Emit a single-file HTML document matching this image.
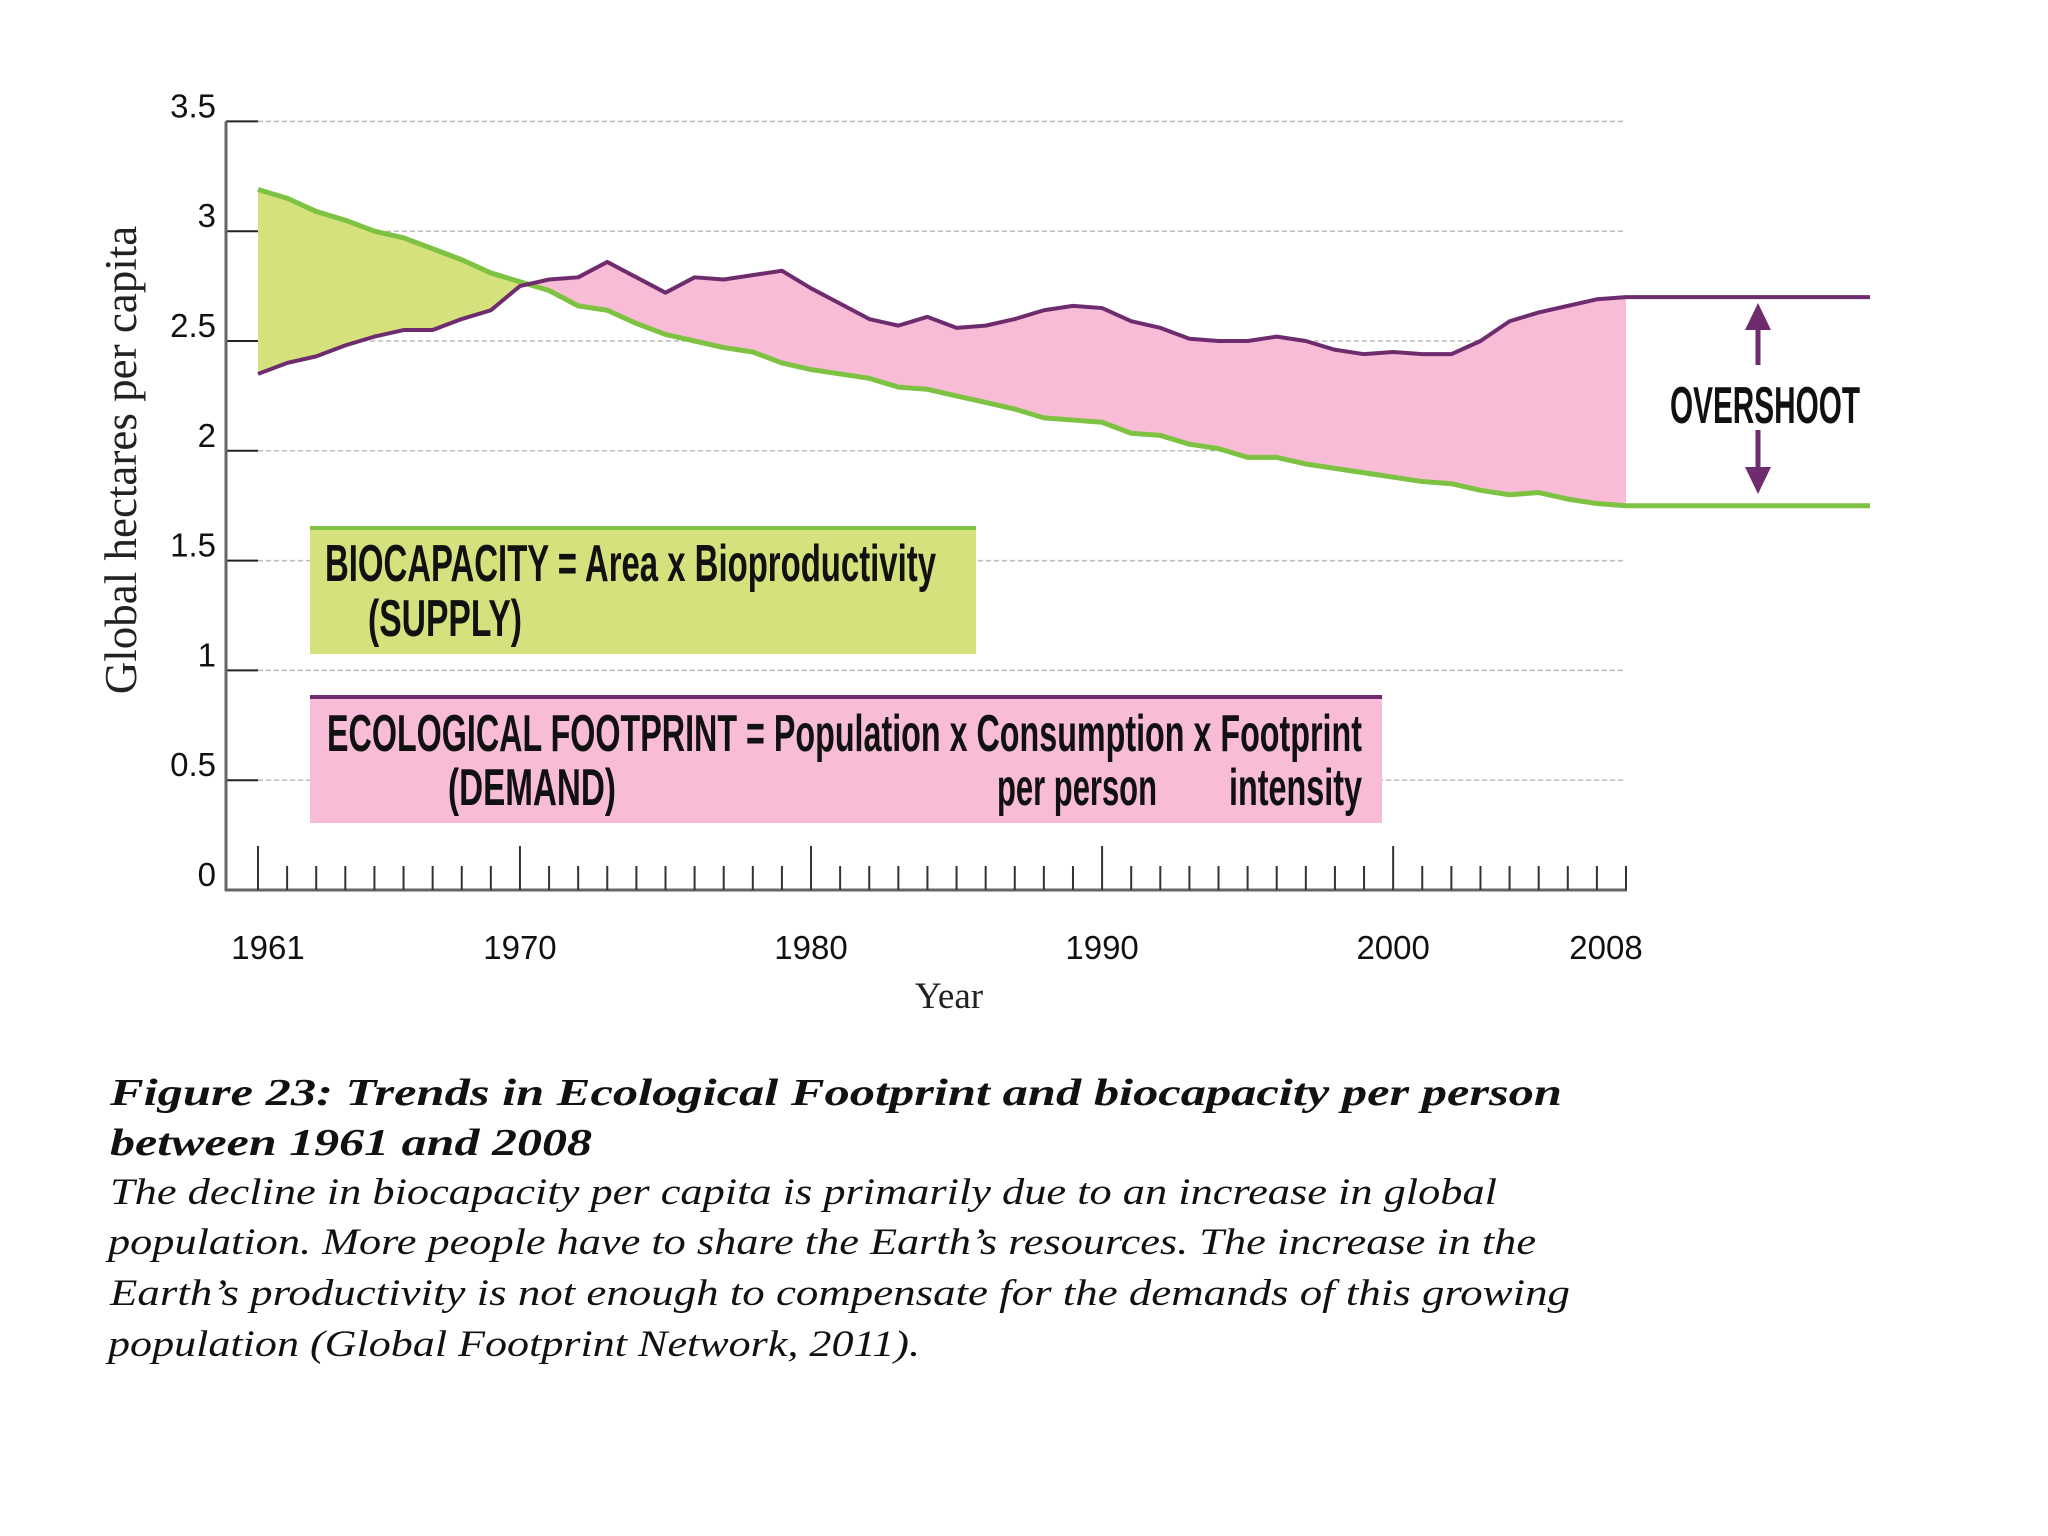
<!DOCTYPE html>
<html><head><meta charset="utf-8"><title>Ecological Footprint vs Biocapacity</title>
<style>html,body{margin:0;padding:0;background:#fff;}svg{display:block;}</style></head>
<body>
<svg id="chart" width="2048" height="1536" viewBox="0 0 2048 1536" xmlns="http://www.w3.org/2000/svg">
<defs>
<clipPath id="aboveFp"><polygon id="clipAboveFp" points=""/></clipPath>
<clipPath id="aboveBio"><polygon id="clipAboveBio" points=""/></clipPath>
</defs>
<g id="grid"></g>
<g id="areas"></g>
<g id="axes"></g>
<g id="lines"></g>

<text transform="translate(136,460) rotate(-90)" text-anchor="middle" font-family="Liberation Serif, serif" font-size="45" fill="#222">Global hectares per capita</text>
<text x="949" y="1008" text-anchor="middle" font-family="Liberation Serif, serif" font-size="37" fill="#222">Year</text>

<g>
<line x1="1758" y1="365" x2="1758" y2="318" stroke="#6e2c6f" stroke-width="5"/>
<polygon points="1758,303 1745,330 1771,330" fill="#6e2c6f"/>
<line x1="1758" y1="430" x2="1758" y2="478" stroke="#6e2c6f" stroke-width="5"/>
<polygon points="1758,494 1745,467 1771,467" fill="#6e2c6f"/>
<text x="1670" y="423" textLength="190" lengthAdjust="spacingAndGlyphs" font-family="Liberation Sans, sans-serif" font-weight="bold" font-size="52" fill="#111">OVERSHOOT</text>
</g>

<g>
<rect x="310" y="526" width="666" height="128" fill="#d4e17c"/>
<rect x="310" y="526" width="666" height="4" fill="#7dc242"/>
<text x="325" y="581" textLength="611" lengthAdjust="spacingAndGlyphs" font-family="Liberation Sans, sans-serif" font-weight="bold" font-size="52" fill="#111">BIOCAPACITY = Area x Bioproductivity</text>
<text x="368" y="636" textLength="154" lengthAdjust="spacingAndGlyphs" font-family="Liberation Sans, sans-serif" font-weight="bold" font-size="52" fill="#111">(SUPPLY)</text>
</g>

<g>
<rect x="310" y="695" width="1072" height="128" fill="#f8bcd6"/>
<rect x="310" y="695" width="1072" height="4" fill="#6e2c6f"/>
<text x="327" y="751" textLength="1035" lengthAdjust="spacingAndGlyphs" font-family="Liberation Sans, sans-serif" font-weight="bold" font-size="52" fill="#111">ECOLOGICAL FOOTPRINT = Population x Consumption x Footprint</text>
<text x="448" y="805" textLength="168" lengthAdjust="spacingAndGlyphs" font-family="Liberation Sans, sans-serif" font-weight="bold" font-size="52" fill="#111">(DEMAND)</text>
<text x="997" y="805" textLength="160" lengthAdjust="spacingAndGlyphs" font-family="Liberation Sans, sans-serif" font-weight="bold" font-size="52" fill="#111">per person</text>
<text x="1229" y="805" textLength="133" lengthAdjust="spacingAndGlyphs" font-family="Liberation Sans, sans-serif" font-weight="bold" font-size="52" fill="#111">intensity</text>
</g>

<g font-family="Liberation Serif, serif" font-style="italic" fill="#111">
<text x="110" y="1105" textLength="1452" lengthAdjust="spacingAndGlyphs" font-weight="bold" font-size="38">Figure 23: Trends in Ecological Footprint and biocapacity per person</text>
<text x="110" y="1155" textLength="482" lengthAdjust="spacingAndGlyphs" font-weight="bold" font-size="38">between 1961 and 2008</text>
<text x="110" y="1204" textLength="1387" lengthAdjust="spacingAndGlyphs" font-size="37">The decline in biocapacity per capita is primarily due to an increase in global</text>
<text x="108" y="1254" textLength="1428" lengthAdjust="spacingAndGlyphs" font-size="37">population. More people have to share the Earth’s resources. The increase in the</text>
<text x="110" y="1305" textLength="1460" lengthAdjust="spacingAndGlyphs" font-size="37">Earth’s productivity is not enough to compensate for the demands of this growing</text>
<text x="108" y="1356" textLength="812" lengthAdjust="spacingAndGlyphs" font-size="37">population (Global Footprint Network, 2011).</text>
</g>
</svg>
<script>
const years = [1961,1962,1963,1964,1965,1966,1967,1968,1969,1970,1971,1972,1973,1974,1975,1976,1977,1978,1979,1980,1981,1982,1983,1984,1985,1986,1987,1988,1989,1990,1991,1992,1993,1994,1995,1996,1997,1998,1999,2000,2001,2002,2003,2004,2005,2006,2007,2008];
const footprint = [2.35,2.40,2.43,2.48,2.52,2.55,2.55,2.60,2.64,2.75,2.78,2.79,2.86,2.79,2.72,2.79,2.78,2.80,2.82,2.74,2.67,2.60,2.57,2.61,2.56,2.57,2.60,2.64,2.66,2.65,2.59,2.56,2.51,2.50,2.50,2.52,2.50,2.46,2.44,2.45,2.44,2.44,2.50,2.59,2.63,2.66,2.69,2.70];
const biocapacity = [3.19,3.15,3.09,3.05,3.00,2.97,2.92,2.87,2.81,2.77,2.73,2.66,2.64,2.58,2.53,2.50,2.47,2.45,2.40,2.37,2.35,2.33,2.29,2.28,2.25,2.22,2.19,2.15,2.14,2.13,2.08,2.07,2.03,2.01,1.97,1.97,1.94,1.92,1.90,1.88,1.86,1.85,1.82,1.80,1.81,1.78,1.76,1.75];
const yTicks = [0,0.5,1,1.5,2,2.5,3,3.5];
const yTickLabels = ["0","0.5","1","1.5","2","2.5","3","3.5"];
const xLabelYears = [1961,1970,1980,1990,2000,2008];
const xLabels = ["1961","1970","1980","1990","2000","2008"];

const NS = "http://www.w3.org/2000/svg";
const X0 = 258, X1 = 1626, Y0 = 890, PXU = 219.6;
const xS = yr => X0 + (yr - 1961) * (X1 - X0) / (2008 - 1961);
const yS = v => Y0 - v * PXU;
function mk(tag, attrs, parent){ const e = document.createElementNS(NS, tag); for (const k in attrs) e.setAttribute(k, attrs[k]); parent.appendChild(e); return e; }

const gridG = document.getElementById('grid'), axesG = document.getElementById('axes'), areasG = document.getElementById('areas'), linesG = document.getElementById('lines');

yTicks.forEach((v, i) => {
  if (v > 0) {
    const g = mk('line', {x1: X0, x2: X1, y1: yS(v), y2: yS(v), stroke: '#bbb', 'stroke-width': 1.5, 'stroke-dasharray': '5,3'}, gridG);
    
    
  }
  const t = mk('line', {x1: 226, x2: X0, y1: yS(v), y2: yS(v), stroke: '#222', 'stroke-width': 2}, axesG);
  
  
  const l = mk('text', {x: 216, y: yS(v) - 4, 'text-anchor': 'end', 'font-family': 'Liberation Sans, sans-serif', 'font-size': 33, fill: '#111'}, axesG);
  l.textContent = yTickLabels[i];
  
  
});
const ya = mk('line', {x1: 226, x2: 226, y1: yS(3.5), y2: Y0 + 1, stroke: '#666', 'stroke-width': 3}, axesG);


const xa = mk('line', {x1: 225, x2: X1 + 1, y1: Y0, y2: Y0, stroke: '#666', 'stroke-width': 3}, axesG);


years.forEach(yr => {
  const major = (yr === 1961 || yr % 10 === 0);
  const tk = mk('line', {x1: xS(yr), x2: xS(yr), y1: Y0, y2: major ? Y0 - 44 : Y0 - 24, stroke: '#333', 'stroke-width': 2}, axesG);
  
  
});
xLabelYears.forEach((yr, i) => {
  const off = yr === 1961 ? 10 : (yr === 2008 ? -20 : 0);
  const l = mk('text', {x: xS(yr) + off, y: 959, 'text-anchor': 'middle', 'font-family': 'Liberation Sans, sans-serif', 'font-size': 33, fill: '#111'}, axesG);
  l.textContent = xLabels[i];
  
  
});

const fpPts = years.map((y, i) => xS(y) + ',' + yS(footprint[i]));
const bioPts = years.map((y, i) => xS(y) + ',' + yS(biocapacity[i]));
const yTop = yS(3.6), yBot = Y0;
document.getElementById('clipAboveFp').setAttribute('points', fpPts.join(' ') + ' ' + X1 + ',' + yTop + ' ' + X0 + ',' + yTop);
document.getElementById('clipAboveBio').setAttribute('points', bioPts.join(' ') + ' ' + X1 + ',' + yTop + ' ' + X0 + ',' + yTop);
const gArea = mk('polygon', {points: bioPts.join(' ') + ' ' + X1 + ',' + yBot + ' ' + X0 + ',' + yBot, fill: '#d4e17c', 'clip-path': 'url(#aboveFp)'}, areasG);


const pArea = mk('polygon', {points: fpPts.join(' ') + ' ' + X1 + ',' + yBot + ' ' + X0 + ',' + yBot, fill: '#f8bcd6', 'clip-path': 'url(#aboveBio)'}, areasG);



const last = years.length - 1;
const bioLine = mk('polyline', {points: bioPts.join(' ') + ' 1870,' + yS(biocapacity[last]), fill: 'none', stroke: '#7dc242', 'stroke-width': 5, 'stroke-linejoin': 'round'}, linesG);


const fpLine = mk('polyline', {points: fpPts.join(' ') + ' 1870,' + yS(footprint[last]), fill: 'none', stroke: '#6e2c6f', 'stroke-width': 4, 'stroke-linejoin': 'round'}, linesG);


</script>
</body></html>
